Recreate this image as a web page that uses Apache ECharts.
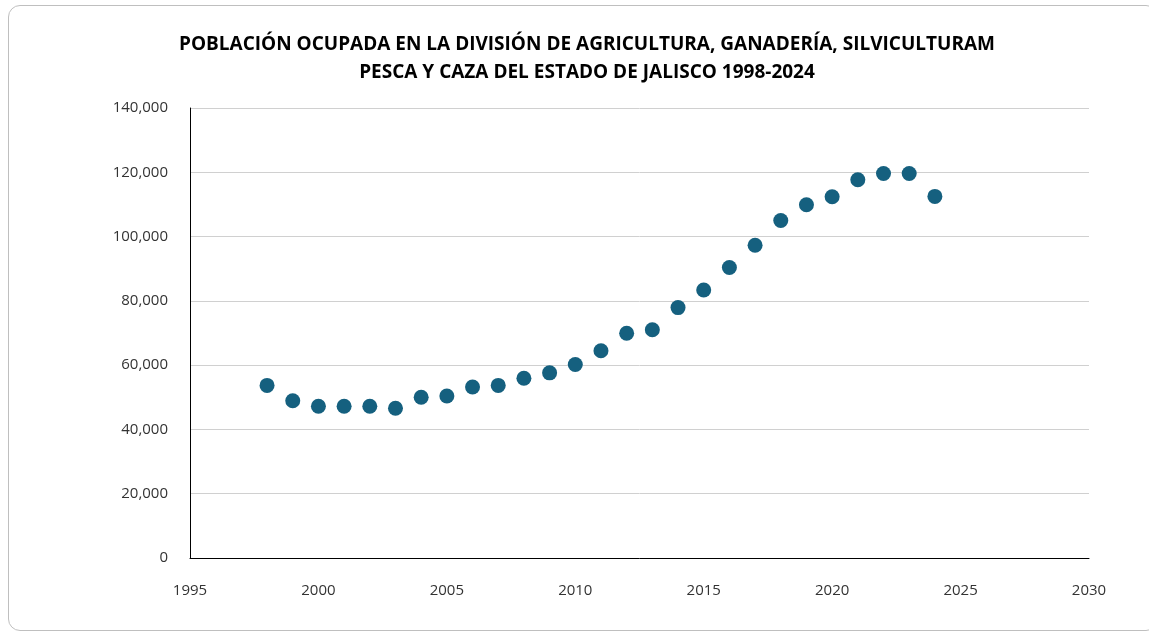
<!DOCTYPE html>
<html>
<head>
<meta charset="utf-8">
<script src="https://cdn.jsdelivr.net/npm/echarts@6/dist/echarts.min.js"></script>
<style>
  html, body { margin: 0; padding: 0; background: #fff; }
  #frame {
    position: absolute; left: 8px; top: 5px; width: 1150px; height: 626px;
    border: 1px solid #bfbfbf; border-radius: 12px; box-sizing: border-box;
  }
  #chart { position: absolute; left: 0; top: 0; width: 1149px; height: 638px; }
</style>
</head>
<body>
<div id="frame"></div>
<div id="chart"></div>
<script>
const years = [1998, 1999, 2000, 2001, 2002, 2003, 2004, 2005, 2006, 2007, 2008, 2009, 2010,
  2011, 2012, 2013, 2014, 2015, 2016, 2017, 2018, 2019, 2020, 2021, 2022, 2023, 2024];
const ocupados = [53700, 48900, 47200, 47200, 47200, 46600, 50000, 50400, 53200, 53700, 55900, 57600, 60200,
  64500, 69900, 71000, 77900, 83400, 90400, 97300, 105000, 109900, 112400, 117700, 119600, 119600, 112500];
const titulo = "POBLACIÓN OCUPADA EN LA DIVISIÓN DE AGRICULTURA, GANADERÍA, SILVICULTURAM\nPESCA Y CAZA DEL ESTADO DE JALISCO 1998-2024";

const chart = echarts.init(document.getElementById("chart"));
const option = {
  animation: false,
  title: {
    text: titulo,
    left: 582,
    textAlign: "center",
    top: 26,
    textStyle: {
      fontFamily: "Open Sans, sans-serif",
      fontWeight: "bold",
      fontSize: 19,
      lineHeight: 28,
      color: "#000"
    }
  },
  grid: { left: 190, right: 60, top: 108, bottom: 80 },
  xAxis: {
    type: "value",
    min: 1995, max: 2030, interval: 5,
    axisLine: { lineStyle: { color: "#000", width: 1 } },
    axisTick: { show: false },
    splitLine: { show: false },
    axisLabel: {
      color: "#333", fontSize: 15, margin: 25,
      fontFamily: "Open Sans, sans-serif",
      formatter: v => String(v)
    }
  },
  yAxis: {
    type: "value",
    min: 0, max: 140000, interval: 20000,
    axisLine: { show: true, lineStyle: { color: "#000", width: 1 } },
    axisTick: { show: false },
    splitLine: { lineStyle: { color: "#d0d0d0", width: 1 } },
    axisLabel: {
      color: "#333", fontSize: 15, margin: 22,
      fontFamily: "Open Sans, sans-serif",
      formatter: v => v.toLocaleString("en-US")
    }
  },
  series: [{
    type: "scatter",
    data: years.map((y, i) => [y, ocupados[i]]),
    symbol: "circle",
    symbolSize: 15,
    itemStyle: { color: "#15607f", opacity: 1 }
  }]
};
chart.setOption(option);
</script>
</body>
</html>
